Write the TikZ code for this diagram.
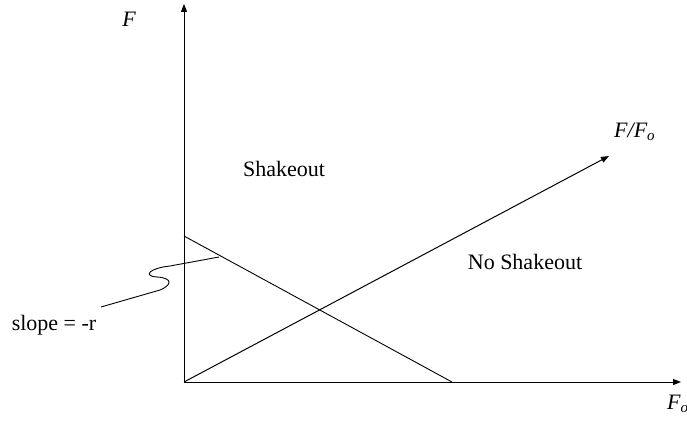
\documentclass[tikz,border=0pt]{standalone}
\usepackage{fontspec}
\setmainfont{Liberation Serif}
\usetikzlibrary{arrows.meta}
\begin{document}
\begin{tikzpicture}[x=1pt,y=-1pt,
  axis/.style={line width=1pt,-{Triangle[length=8pt,width=6pt]}},
  ln/.style={line width=0.9pt},
  lbl/.style={inner sep=0pt,font=\fontsize{22}{26}\selectfont},
  ilbl/.style={inner sep=0pt,font=\fontsize{22}{26}\selectfont\itshape}]
\useasboundingbox (0,0) rectangle (687,420);
\coordinate (O) at (184,382);
\coordinate (Ytop) at (184,4);
\coordinate (Xend) at (681,382);
\coordinate (Dend) at (609,156);
\coordinate (L1) at (184,236);
\coordinate (L2) at (452,382);
\coordinate (S0) at (101,307);
\coordinate (S1) at (219,257);
\draw[axis] (O) -- (Ytop);
\draw[axis] (O) -- (Xend);
\draw[axis] (O) -- (Dend);
\draw[ln] (L1) -- (L2);
\draw[ln] (S0) -- (160,290) .. controls (172,285) and (173,278) .. (157,277)
  .. controls (142,276) and (150,268) .. (170,266) -- (S1);
\node[ilbl,anchor=base] (F) at (129,27) {F};
\node[ilbl,anchor=base west] (FFo) at (614,137) {F/F\raisebox{-0.3ex}{\fontsize{15}{15}\selectfont o}};
\node[ilbl,anchor=base west] (Fo) at (667,409) {F\raisebox{-0.3ex}{\fontsize{15}{15}\selectfont o}};
\node[lbl,anchor=base] (sh) at (284,176) {Shakeout};
\node[lbl,anchor=base] (nsh) at (525,269) {No Shakeout};
\node[lbl,anchor=base] (sl) at (54,330) {slope = -r};
\end{tikzpicture}
\end{document}
